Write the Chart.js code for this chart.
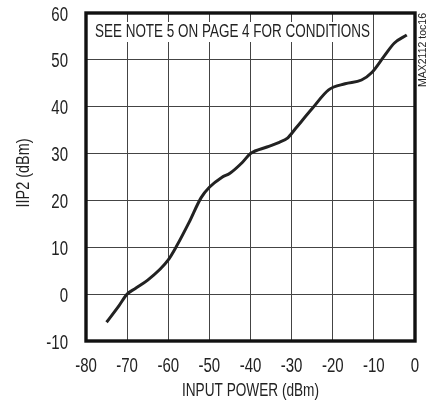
<!DOCTYPE html>
<html>
<head>
<meta charset="utf-8">
<script src="https://cdn.jsdelivr.net/npm/chart.js@4.4.0/dist/chart.umd.min.js"></script>
<style>
  html, body { margin: 0; padding: 0; background: #fff; }
  #wrap { width: 432px; height: 401px; position: relative; }
</style>
</head>
<body>
<div id="wrap"><canvas id="chart" width="432" height="401"></canvas></div>
<script>
// IIP2 vs input power
const inputPower = [-75, -72, -70, -68, -65, -62, -60, -58, -55, -52, -50, -47, -45, -42, -40, -36, -33, -31, -29, -25, -21, -17, -13, -10.5, -7.5, -5, -2];
const iip2 = [-6, -2.5, 0, 1.2, 3.0, 5.3, 7.3, 10.2, 15.2, 20.6, 22.8, 24.9, 25.8, 28.1, 30.0, 31.4, 32.4, 33.3, 35.4, 39.6, 43.6, 44.9, 45.7, 47.3, 50.8, 53.6, 55.3];
const xTicks = [-80, -70, -60, -50, -40, -30, -20, -10, 0];
const yTicks = [-10, 0, 10, 20, 30, 40, 50, 60];
const xTitle = 'INPUT POWER (dBm)';
const yTitle = 'IIP2 (dBm)';
const noteText = 'SEE NOTE 5 ON PAGE 4 FOR CONDITIONS';
const sideText = 'MAX2112 toc16';

const FONT = '"Liberation Sans", Arial, sans-serif';
const INK = '#222';

// the original uses a condensed face, so text is squeezed sideways
function squeezed(ctx, text, x, y, size, sx, align) {
  ctx.save();
  ctx.font = size + 'px ' + FONT;
  ctx.fillStyle = INK;
  ctx.textBaseline = 'middle';
  ctx.textAlign = align;
  ctx.translate(x, y);
  ctx.scale(sx, 1);
  ctx.fillText(text, 0, 0);
  ctx.restore();
}

function fitScale(ctx, text, size, width) {
  ctx.save();
  ctx.font = size + 'px ' + FONT;
  const w = ctx.measureText(text).width;
  ctx.restore();
  return width / w;
}

const decor = {
  id: 'decor',
  beforeDatasetsDraw(chart) {
    const a = chart.chartArea;
    const ctx = chart.ctx;
    // white box behind the note, grid lines stop at it
    ctx.save();
    ctx.fillStyle = '#fff';
    ctx.fillRect(a.left + 5, a.top + 9, 279, 20);
    ctx.restore();
    squeezed(ctx, noteText, a.left + 9, a.top + 19, 18, fitScale(ctx, noteText, 18, 275), 'left');
  },
  afterDraw(chart) {
    const a = chart.chartArea;
    const ctx = chart.ctx;
    const xs = chart.scales.x, ys = chart.scales.y;

    ctx.save();
    ctx.strokeStyle = '#111';
    ctx.lineWidth = 3.4;
    ctx.strokeRect(a.left, a.top, a.right - a.left, a.bottom - a.top);
    ctx.restore();

    xs.ticks.forEach(t => {
      squeezed(ctx, String(t.value), xs.getPixelForValue(t.value), a.bottom + 25, 20, 0.75, 'center');
    });
    ys.ticks.forEach(t => {
      squeezed(ctx, String(t.value), a.left - 18, ys.getPixelForValue(t.value) + 2, 20, 0.75, 'right');
    });

    squeezed(ctx, xTitle, (a.left + a.right) / 2, a.bottom + 50, 18, fitScale(ctx, xTitle, 18, 137), 'center');

    ctx.save();
    ctx.translate(24, (a.top + a.bottom) / 2 - 4);
    ctx.rotate(-Math.PI / 2);
    squeezed(ctx, yTitle, 0, 0, 18, fitScale(ctx, yTitle, 18, 69), 'center');
    ctx.restore();

    ctx.save();
    ctx.translate(a.right + 8, a.top);
    ctx.rotate(-Math.PI / 2);
    squeezed(ctx, sideText, 0, 0, 11, fitScale(ctx, sideText, 11, 74), 'right');
    ctx.restore();
  }
};

new Chart(document.getElementById('chart'), {
  type: 'scatter',
  data: {
    datasets: [{
      data: inputPower.map((x, i) => ({ x: x, y: iip2[i] })),
      showLine: true,
      borderColor: INK,
      borderWidth: 3,
      pointRadius: 0,
      cubicInterpolationMode: 'monotone',
      fill: false
    }]
  },
  options: {
    responsive: false,
    animation: false,
    devicePixelRatio: 1,
    layout: { padding: { top: 13, right: 17, left: 0, bottom: 0 } },
    plugins: { legend: { display: false }, tooltip: { enabled: false } },
    scales: {
      x: {
        type: 'linear',
        min: -80, max: 0,
        afterBuildTicks: s => { s.ticks = xTicks.map(v => ({ value: v })); },
        afterFit: s => { s.height = 60; },
        grid: { color: '#444', lineWidth: 1, drawTicks: false },
        border: { display: false },
        ticks: { display: false }
      },
      y: {
        min: -10, max: 60,
        afterBuildTicks: s => { s.ticks = yTicks.map(v => ({ value: v })); },
        afterFit: s => { s.width = 86; },
        grid: { color: '#444', lineWidth: 1, drawTicks: false },
        border: { display: false },
        ticks: { display: false }
      }
    }
  },
  plugins: [decor]
});
</script>
</body>
</html>
